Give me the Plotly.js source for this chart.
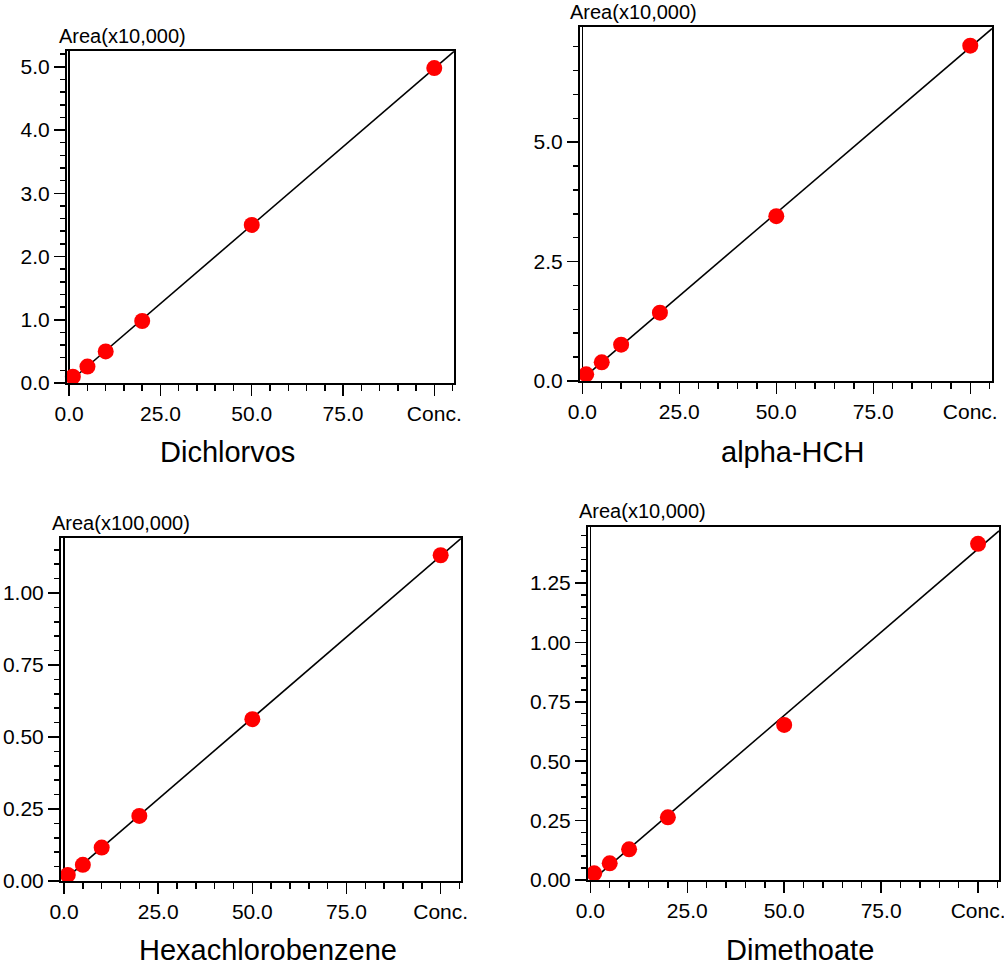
<!DOCTYPE html>
<html>
<head>
<meta charset="utf-8">
<script src="https://cdn.plot.ly/plotly-3.0.1.min.js"></script>
<style>html,body{margin:0;padding:0;background:#fff}#chart{width:1004px;height:965px}</style>
</head>
<body>
<div id="chart"></div>
<script>
// ---- data ----
const compounds = ["Dichlorvos", "alpha-HCH", "Hexachlorobenzene", "Dimethoate"];
const areaUnits = ["Area(x10,000)", "Area(x10,000)", "Area(x100,000)", "Area(x10,000)"];
const conc = [1, 5, 10, 20, 50, 100];
const dichlorvosArea = [0.10, 0.26, 0.50, 0.98, 2.50, 4.98];
const alphaHCHArea = [0.14, 0.39, 0.76, 1.43, 3.45, 7.02];
const hexachlorobenzeneArea = [0.021, 0.056, 0.116, 0.226, 0.562, 1.131];
const dimethoateArea = [0.028, 0.070, 0.129, 0.264, 0.653, 1.415];
const xTickVals = [0, 25, 50, 75, 100];
const xTickText = ["0.0", "25.0", "50.0", "75.0", "Conc."];

const series = [dichlorvosArea, alphaHCHArea, hexachlorobenzeneArea, dimethoateArea];

// ---- layout settings ----
const W = 1004, H = 965;
const boxes = [ // left, right, top, bottom in px
  [67, 454, 51, 383],
  [580, 992, 27, 381],
  [61, 461, 538, 881],
  [588, 999, 527, 880]
];
const xRanges = [[-0.6, 105.4], [-0.6, 105.6], [-0.8, 105.4], [-0.6, 105.4]];
const yRanges = [[0, 5.25], [0, 7.41], [0, 1.191], [0, 1.486]];
const yDticks = [1, 2.5, 0.25, 0.25];
const yMinor = [0.2, 0.5, 0.05, 0.05];
const yFormats = [".1f", ".1f", ".2f", ".2f"];
const unitPos = [[57, 49], [568, 25], [50, 536], [577, 524]];
const namePos = [[227, 452], [792, 452], [268, 950], [800, 950]];

const FONT = "Liberation Sans, Arial, sans-serif";

function lsq(x, y) {
  const n = x.length;
  const mx = x.reduce((a, b) => a + b, 0) / n;
  const my = y.reduce((a, b) => a + b, 0) / n;
  let sxy = 0, sxx = 0;
  for (let i = 0; i < n; i++) { sxy += (x[i] - mx) * (y[i] - my); sxx += (x[i] - mx) ** 2; }
  const m = sxy / sxx;
  return [m, my - m * mx];
}

const traces = [];
const layout = {
  width: W, height: H,
  margin: {l: 0, r: 0, t: 0, b: 0},
  paper_bgcolor: "#fff", plot_bgcolor: "#fff",
  showlegend: false,
  font: {family: FONT, size: 20, color: "#000"},
  annotations: []
};

series.forEach((ys, i) => {
  const k = i + 1;
  const sfx = k === 1 ? "" : String(k);
  const [m, b] = lsq(conc, ys);
  const fx = [0, xRanges[i][1]];
  const fy = fx.map(v => m * v + b);
  traces.push({
    x: fx, y: fy, type: "scatter", mode: "lines",
    line: {color: "#000", width: 1.6},
    xaxis: "x" + sfx, yaxis: "y" + sfx, hoverinfo: "skip"
  });
  traces.push({
    x: conc, y: ys, type: "scatter", mode: "markers",
    marker: {color: "#ff0000", size: 16},
    cliponaxis: false,
    xaxis: "x" + sfx, yaxis: "y" + sfx
  });
  const [l, r, t, bt] = boxes[i];
  layout["xaxis" + sfx] = {
    domain: [l / W, r / W], anchor: "y" + sfx,
    range: xRanges[i],
    showgrid: false, zeroline: true, zerolinecolor: "#000", zerolinewidth: 1.5,
    showline: true, linecolor: "#000", linewidth: 2, mirror: true,
    ticks: "outside", ticklen: 11, tickwidth: 1.5, tickcolor: "#000",
    tickmode: "array", tickvals: xTickVals, ticktext: xTickText,
    ticklabeloverflow: "allow",
    tickfont: {family: FONT, size: 21, color: "#000"},
    minor: {dtick: 5, tick0: 0, ticks: "outside", ticklen: 6, tickwidth: 1.5, tickcolor: "#000", showgrid: false},
    fixedrange: true
  };
  layout["yaxis" + sfx] = {
    domain: [1 - bt / H, 1 - t / H], anchor: "x" + sfx,
    range: yRanges[i],
    showgrid: false, zeroline: false,
    showline: true, linecolor: "#000", linewidth: 2, mirror: true,
    ticks: "outside", ticklen: 11, tickwidth: 1.5, tickcolor: "#000",
    tick0: 0, dtick: yDticks[i], tickformat: yFormats[i],
    ticklabeloverflow: "allow",
    tickfont: {family: FONT, size: 21, color: "#000"},
    minor: {dtick: yMinor[i], tick0: 0, ticks: "outside", ticklen: 5, tickwidth: 1.5, tickcolor: "#000", showgrid: false},
    fixedrange: true
  };
  layout.annotations.push({
    text: areaUnits[i], xref: "paper", yref: "paper",
    x: unitPos[i][0] / W, y: 1 - unitPos[i][1] / H,
    xanchor: "left", yanchor: "bottom", showarrow: false,
    font: {family: FONT, size: 20, color: "#000"}
  });
  layout.annotations.push({
    text: compounds[i], xref: "paper", yref: "paper",
    x: namePos[i][0] / W, y: 1 - namePos[i][1] / H,
    xanchor: "center", yanchor: "middle", showarrow: false,
    font: {family: FONT, size: 29, color: "#000"}
  });
});

Plotly.newPlot("chart", traces, layout, {displayModeBar: false, staticPlot: true});
</script>
</body>
</html>
